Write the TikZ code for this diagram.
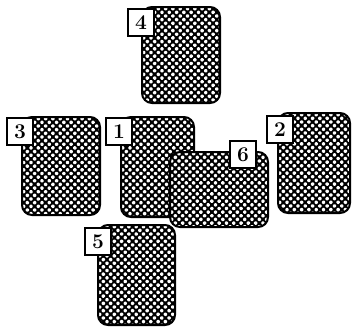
\documentclass[tikz,border=0pt]{standalone}
\usepackage{fix-cm}
\usetikzlibrary{positioning}

\tikzset{
  cardedge/.style={line width=2pt, rounded corners=10pt},
  dot/.style={white, rounded corners=1.1pt},
  numbox/.style={draw, fill=white, line width=1.3pt, anchor=north west,
    inner sep=0pt, outer sep=0pt, minimum width=26pt, minimum height=27pt,
    font=\fontsize{21}{21}\selectfont\bfseries}
}

% card body with white dot checker: x1 y1 x2 y2
\newcommand{\checkcard}[4]{%
  \begin{scope}
    \clip[rounded corners=10pt] (#1,#2) rectangle (#3,#4);
    \fill[black] (#1,#2) rectangle (#3,#4);
    \foreach \j in {0,...,28} {
      \pgfmathsetmacro\off{mod(\j,2)*3.65}
      \foreach \i in {0,...,14}
        \fill[dot] (#1+\off+\i*7.3, #2+\j*3.65) rectangle ++(3.4,3.4);
    }
  \end{scope}
  \draw[cardedge] (#1,#2) rectangle (#3,#4);
}

\begin{document}
\begin{tikzpicture}[x=1pt, y=-1pt]
    \useasboundingbox (0,0) rectangle (352,327);

    % Card 4
    \checkcard{142}{7}{220}{103}
    \node[numbox] (n4) at (128,9) {4};

    % Card 3
    \checkcard{22}{117}{100}{215}
    \node[numbox] (n3) at (7,118) {3};

    % Card 1
    \checkcard{121}{117}{194}{217}
    \node[numbox] (n1) at (106,118) {1};

    % Card 2
    \checkcard{278}{113}{350}{213}
    \node[numbox] (n2) at (267,116) {2};

    % Card 5
    \checkcard{98}{225}{175}{325}
    \node[numbox] (n5) at (85,228) {5};

    % Card 6 (lying across card 1)
    \checkcard{170}{152}{268}{227}
    \node[numbox] (n6) at (230,141) {6};
\end{tikzpicture}
\end{document}
